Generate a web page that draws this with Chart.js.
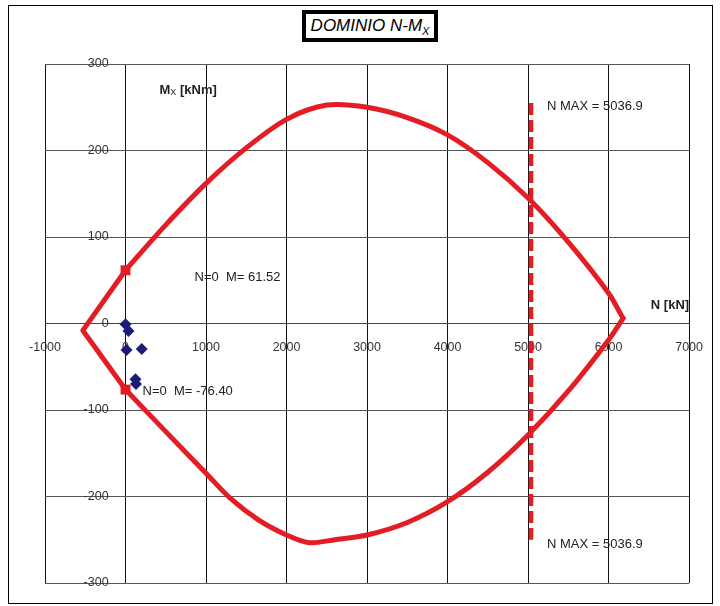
<!DOCTYPE html>
<html>
<head>
<meta charset="utf-8">
<title>Dominio N-Mx</title>
<script src="https://cdn.jsdelivr.net/npm/chart.js@4.4.1/dist/chart.umd.min.js"></script>
<style>
  html, body { margin: 0; padding: 0; background: #fff; }
  #wrap { position: relative; width: 720px; height: 606px; }
  #frame {
    position: absolute; left: 8px; top: 5px; width: 705px; height: 599px;
    border: 1px solid #000; box-sizing: border-box;
  }
  #title {
    position: absolute; left: 302px; top: 10px; width: 136px; height: 32px;
    border: 4px solid #000; box-sizing: border-box; background: #fff;
    font: italic 17px "Liberation Sans", Arial, sans-serif; color: #000;
    text-align: center; line-height: 24px; white-space: nowrap;
  }
  #title sub { font-size: 11px; vertical-align: -4px; line-height: 0; }
  #chart { position: absolute; left: 0; top: 0; }
</style>
</head>
<body>
<div id="wrap">
  <div id="frame"></div>
  <canvas id="chart" width="720" height="606"></canvas>
  <div id="title">DOMINIO N-M<sub>X</sub></div>
</div>
<script>
// Domain contour (N in kN, Mx in kNm): upper branch, lower branch, tension side
const upperN = [0, 500, 1000, 1500, 2000, 2500, 3000, 3500, 4000, 4500, 5000, 5500, 6000, 6180];
const upperM = [61.52, 114, 162, 203, 236, 252.5, 250, 238, 218, 186, 145, 94, 35, 6];
const lowerN = [6180, 6000, 5500, 5000, 4500, 4000, 3500, 3000, 2600, 2279, 2000, 1650, 1300, 1000, 500, 0];
const lowerM = [6, -19, -78, -129, -172, -206, -230, -244.5, -250, -253.4, -244.5, -227, -202, -173, -125, -76.40];
const leftN = [0, -530, 0];
const leftM = [-76.40, -8, 61.52];

// Load cases
const loadN = [0, 37, 12, 202, 124, 130];
const loadM = [-1, -8.7, -30.6, -29.5, -64.5, -70];

// Pure bending points (N = 0)
const zeroN = [0, 0];
const zeroM = [61.52, -76.40];

// Maximum axial load line
const nMax = 5036.9;
const nMaxM = [255, -250];

// Axis ticks
const nTicks = [-1000, 0, 1000, 2000, 3000, 4000, 5000, 6000, 7000];
const mTicks = [-300, -200, -100, 0, 100, 200, 300];

const toPoints = (xs, ys) => xs.map((v, i) => ({ x: v, y: ys[i] }));

const FONT = '"Liberation Sans", Arial, sans-serif';
const RED = '#e41d25';
Chart.defaults.font.family = FONT;
Chart.defaults.color = '#333';

// text helper for "M" with subscript "X"
const drawSubLabel = (ctx, x, y, main, sub, rest, size) => {
    ctx.font = `bold ${size}px ${FONT}`;
    ctx.fillText(main, x, y);
    let cx = x + ctx.measureText(main).width;
    ctx.font = `${size - 4}px ${FONT}`;
    ctx.fillText(sub, cx, y + 3);
    cx += ctx.measureText(sub).width;
    ctx.font = `bold ${size}px ${FONT}`;
    ctx.fillText(rest, cx, y);
};

const labelsPlugin = {
    id: 'domainLabels',
    afterDatasetsDraw(chart) {
        const { ctx, chartArea } = chart;
        const sx = chart.scales.x, sy = chart.scales.y;
        ctx.save();
        ctx.fillStyle = '#222';
        ctx.textBaseline = 'middle';
        ctx.textAlign = 'left';

        // axis titles
        drawSubLabel(ctx, sx.getPixelForValue(0) + 34, chartArea.top + 26, 'M', 'X', ' [kNm]', 13);
        ctx.textAlign = 'right';
        ctx.font = `bold 13px ${FONT}`;
        ctx.fillText('N [kN]', chartArea.right, sy.getPixelForValue(0) - 18);

        // values at N = 0
        ctx.textAlign = 'left';
        ctx.font = `13px ${FONT}`;
        ctx.fillText(`N=0  M= ${zeroM[0].toFixed(2)}`, sx.getPixelForValue(zeroN[0]) + 69, sy.getPixelForValue(zeroM[0]) + 7);
        ctx.fillText(`N=0  M= ${zeroM[1].toFixed(2)}`, sx.getPixelForValue(zeroN[1]) + 17, sy.getPixelForValue(zeroM[1]) + 2);

        // N max labels at both ends of the dashed line
        const nx = sx.getPixelForValue(nMax) + 16;
        ctx.fillText(`N MAX = ${nMax.toFixed(1)}`, nx, sy.getPixelForValue(nMaxM[0]) + 3);
        ctx.fillText(`N MAX = ${nMax.toFixed(1)}`, nx, sy.getPixelForValue(nMaxM[1]) + 5);
        ctx.restore();
    }
};

const contourLine = (label, xs, ys, tension) => ({
    label,
    data: toPoints(xs, ys),
    showLine: true,
    borderColor: RED,
    borderWidth: 5,
    borderCapStyle: 'round',
    borderJoinStyle: 'round',
    pointRadius: 0,
    tension,
    order: 3
});

new Chart(document.getElementById('chart').getContext('2d'), {
    type: 'scatter',
    data: {
        datasets: [
            contourLine('Dominio sup', upperN, upperM, 0.3),
            contourLine('Dominio inf', lowerN, lowerM, 0.3),
            contourLine('Dominio traz', leftN, leftM, 0),
            {
                label: 'N max',
                data: toPoints([nMax, nMax], nMaxM),
                showLine: true,
                borderColor: RED,
                borderWidth: 4.5,
                borderDash: [12, 5],
                pointRadius: 0,
                order: 2
            },
            {
                label: 'Sollecitazioni',
                data: toPoints(loadN, loadM),
                pointStyle: 'rectRot',
                pointRadius: 6,
                backgroundColor: '#1c1c78',
                borderColor: '#1c1c78',
                borderWidth: 0,
                order: 1
            },
            {
                label: 'N=0',
                data: toPoints(zeroN, zeroM),
                pointStyle: 'rect',
                pointRadius: 7,
                backgroundColor: RED,
                borderColor: RED,
                borderWidth: 0,
                order: 0
            }
        ]
    },
    options: {
        responsive: false,
        animation: false,
        devicePixelRatio: 1,
        layout: { padding: { left: 45, right: 29, top: 64, bottom: 23 } },
        plugins: {
            legend: { display: false },
            tooltip: { enabled: false }
        },
        scales: {
            x: {
                type: 'linear',
                min: nTicks[0],
                max: nTicks[nTicks.length - 1],
                position: { y: 0 },
                afterBuildTicks: (scale) => { scale.ticks = nTicks.map(v => ({ value: v })); },
                ticks: {
                    padding: 17, maxRotation: 0, autoSkip: false, color: '#333', font: { size: 12.5 },
                    callback: (v) => String(v)
                },
                grid: { color: '#111', lineWidth: 1, drawTicks: false },
                border: { color: '#444', width: 1 }
            },
            y: {
                type: 'linear',
                min: mTicks[0],
                max: mTicks[mTicks.length - 1],
                // labels sit a little left of the N = 0 line; the line itself is the x grid line at 0
                position: { x: -210 },
                afterBuildTicks: (scale) => { scale.ticks = mTicks.map(v => ({ value: v })); },
                ticks: {
                    autoSkip: false, color: '#333', font: { size: 12.5 },
                    callback: (v) => String(v)
                },
                grid: { color: '#555', lineWidth: 1, drawTicks: false },
                border: { display: false }
            }
        }
    },
    plugins: [labelsPlugin]
});
</script>
</body>
</html>
